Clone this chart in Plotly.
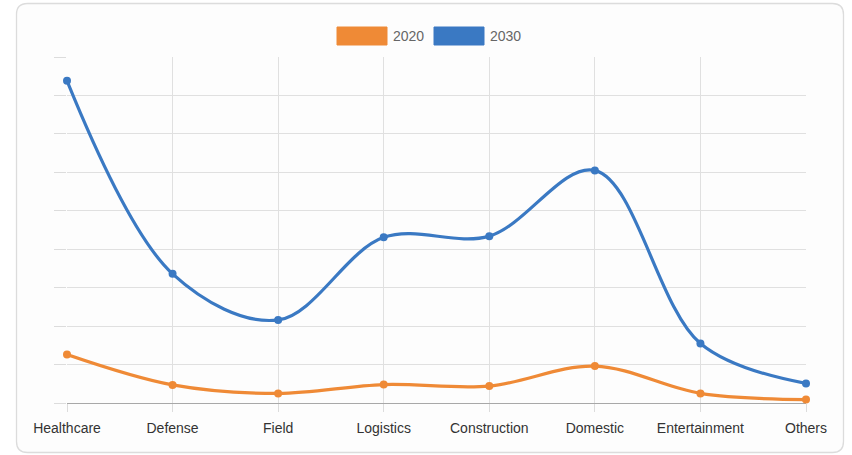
import plotly.graph_objects as go

categories = ["Healthcare", "Defense", "Field", "Logistics", "Construction", "Domestic", "Entertainment", "Others"]
series_2020 = [12.6, 4.7, 2.5, 4.8, 4.4, 9.6, 2.5, 0.9]
series_2030 = [83.8, 33.6, 21.6, 43.1, 43.4, 60.5, 15.5, 5.1]
series_names = ["2020", "2030"]
colors = ["#ef8a36", "#3a79c3"]

W, H = 852, 455
ML, MR, MT, MB = 67, 46, 57, 52
PW, PH = W - ML - MR, H - MT - MB

def px(x):
    return (x - ML) / PW

def py(y):
    return (H - MB - y) / PH

fig = go.Figure()
for name, vals, col in zip(series_names, [series_2020, series_2030], colors):
    fig.add_trace(go.Scatter(
        x=categories, y=vals, name=name, mode="lines+markers",
        line=dict(color=col, width=3.2, shape="spline", smoothing=1.0),
        marker=dict(color=col, size=8),
        showlegend=False, hoverinfo="skip", cliponaxis=False,
    ))

shapes = []
# card border with rounded corners
x0, x1, y0, y1, r = 16.5, 843.5, 3.5, 452.5, 11
def P(x, y):
    return f"{px(x):.5f},{py(y):.5f}"
path = (f"M {P(x0 + r, y0)} L {P(x1 - r, y0)} Q {P(x1, y0)} {P(x1, y0 + r)} "
        f"L {P(x1, y1 - r)} Q {P(x1, y1)} {P(x1 - r, y1)} "
        f"L {P(x0 + r, y1)} Q {P(x0, y1)} {P(x0, y1 - r)} "
        f"L {P(x0, y0 + r)} Q {P(x0, y0)} {P(x0 + r, y0)} Z")
shapes.append(dict(type="path", xref="paper", yref="paper", path=path,
                   line=dict(color="#dcdcdc", width=1.3), fillcolor="rgba(253,253,253,1)", layer="below"))

annotations = []
legend_x = [337, 434]
for lx, name, col in zip(legend_x, series_names, colors):
    shapes.append(dict(type="rect", xref="paper", yref="paper",
                       x0=px(lx), x1=px(lx + 50), y0=py(45), y1=py(27),
                       fillcolor=col, line=dict(color=col, width=1)))
    annotations.append(dict(xref="paper", yref="paper", x=px(lx + 54), y=py(36.5),
                            text=name, showarrow=False, xanchor="left", yanchor="middle",
                            font=dict(size=14, color="#666666", family="Liberation Sans, Arial, sans-serif")))

fig.update_layout(
    width=W, height=H,
    margin=dict(l=ML, r=MR, t=MT, b=MB),
    paper_bgcolor="white", plot_bgcolor="rgba(0,0,0,0)",
    shapes=shapes, annotations=annotations,
    hovermode=False,
    xaxis=dict(
        type="category", range=[0, len(categories) - 1],
        showgrid=True, gridcolor="#e0e0e0", gridwidth=1,
        ticks="outside", ticklen=8, tickcolor="#dcdcdc", tickwidth=1,
        showline=False, zeroline=False,
        tickfont=dict(size=14, color="#333333", family="Liberation Sans, Arial, sans-serif"),
        ticklabelstandoff=4,
    ),
    yaxis=dict(
        range=[0, 90], dtick=10, showticklabels=False,
        showgrid=True, gridcolor="#e0e0e0", gridwidth=1,
        ticks="outside", ticklen=12, tickcolor="#dcdcdc", tickwidth=1,
        zeroline=True, zerolinecolor="#a8a8a8", zerolinewidth=1.2,
        showline=False,
    ),
)

fig.write_html("out.html")
